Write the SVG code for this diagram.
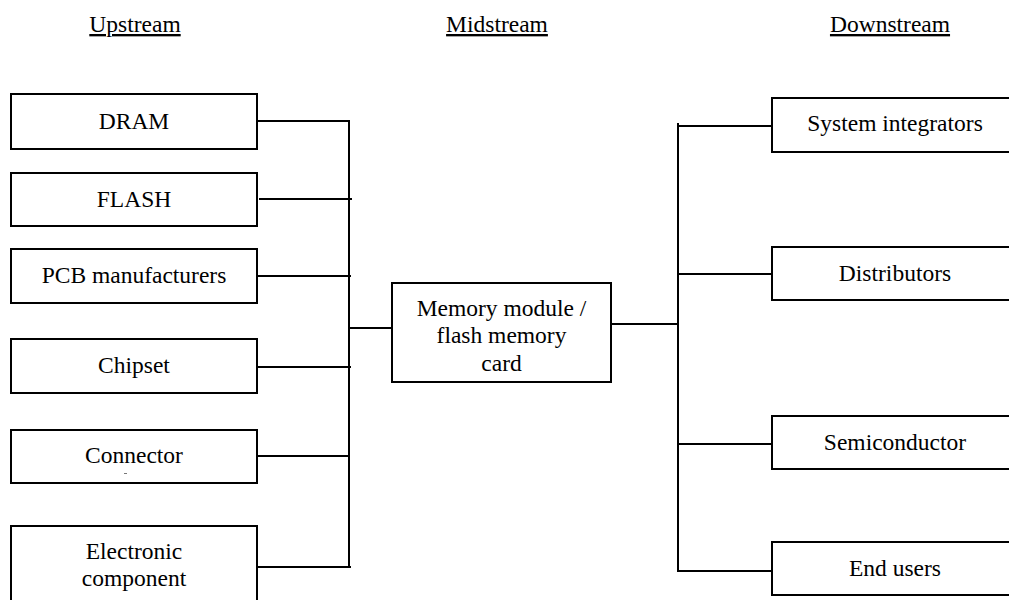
<svg xmlns="http://www.w3.org/2000/svg" width="1009" height="600" viewBox="0 0 1009 600">
  <style>
    .box { fill: #ffffff; stroke: #000000; stroke-width: 2; }
    text { font-family: 'Liberation Serif', 'Times New Roman', Times, 'DejaVu Serif', serif; font-size: 23.5px; fill: #000000; text-anchor: middle; }
    .hdr { text-decoration: underline; }
    .wire { fill: none; stroke: #000000; stroke-width: 2; }
  </style>
  <rect width="1009" height="600" fill="#ffffff"/>

  <!-- column headings -->
  <g id="headings">
    <text class="hdr" x="135" y="32">Upstream</text>
    <text class="hdr" x="497" y="32">Midstream</text>
    <text class="hdr" x="890" y="32">Downstream</text>
  </g>

  <!-- connectors -->
  <g id="connectors">
    <path class="wire" d="M257 121 H349 V567"/>
    <path class="wire" d="M259 199 H352"/>
    <path class="wire" d="M257 276 H351"/>
    <path class="wire" d="M349 328 H392"/>
    <path class="wire" d="M257 367 H351"/>
    <path class="wire" d="M255 456 H349"/>
    <path class="wire" d="M257 567 H351"/>
    <path class="wire" d="M611 324 H678"/>
    <path class="wire" d="M678 123 V571 H772"/>
    <path class="wire" d="M678 126 H772"/>
    <path class="wire" d="M678 274 H772"/>
    <path class="wire" d="M678 444 H772"/>
  </g>

  <!-- upstream -->
  <g id="dram">
    <rect class="box" x="11" y="94" width="246" height="55"/>
    <text x="134" y="129">DRAM</text>
  </g>
  <g id="flash">
    <rect class="box" x="11" y="173" width="246" height="53"/>
    <text x="134" y="207">FLASH</text>
  </g>
  <g id="pcb">
    <rect class="box" x="11" y="249" width="246" height="54"/>
    <text x="134" y="283">PCB manufacturers</text>
  </g>
  <g id="chipset">
    <rect class="box" x="11" y="339" width="246" height="54"/>
    <text x="134" y="373">Chipset</text>
  </g>
  <g id="connector">
    <rect class="box" x="11" y="430" width="246" height="53"/>
    <text x="134" y="463">Connector</text>
    <line x1="124" y1="473.5" x2="127" y2="473.5" stroke="#777777" stroke-width="1"/>
  </g>
  <g id="electronic">
    <rect class="box" x="11" y="526" width="246" height="90"/>
    <text x="134" y="559">Electronic</text>
    <text x="134" y="586">component</text>
  </g>

  <!-- midstream -->
  <g id="memory">
    <rect class="box" x="392" y="283" width="219" height="99"/>
    <text x="501.5" y="316">Memory module /</text>
    <text x="501.5" y="343">flash memory</text>
    <text x="501.5" y="371">card</text>
  </g>

  <!-- downstream -->
  <g id="integrators">
    <rect class="box" x="772" y="98" width="246" height="54"/>
    <text x="895" y="131">System integrators</text>
  </g>
  <g id="distributors">
    <rect class="box" x="772" y="247" width="246" height="53"/>
    <text x="895" y="281">Distributors</text>
  </g>
  <g id="semiconductor">
    <rect class="box" x="772" y="416" width="246" height="53"/>
    <text x="895" y="450">Semiconductor</text>
  </g>
  <g id="endusers">
    <rect class="box" x="772" y="542" width="246" height="53"/>
    <text x="895" y="576">End users</text>
  </g>
</svg>
